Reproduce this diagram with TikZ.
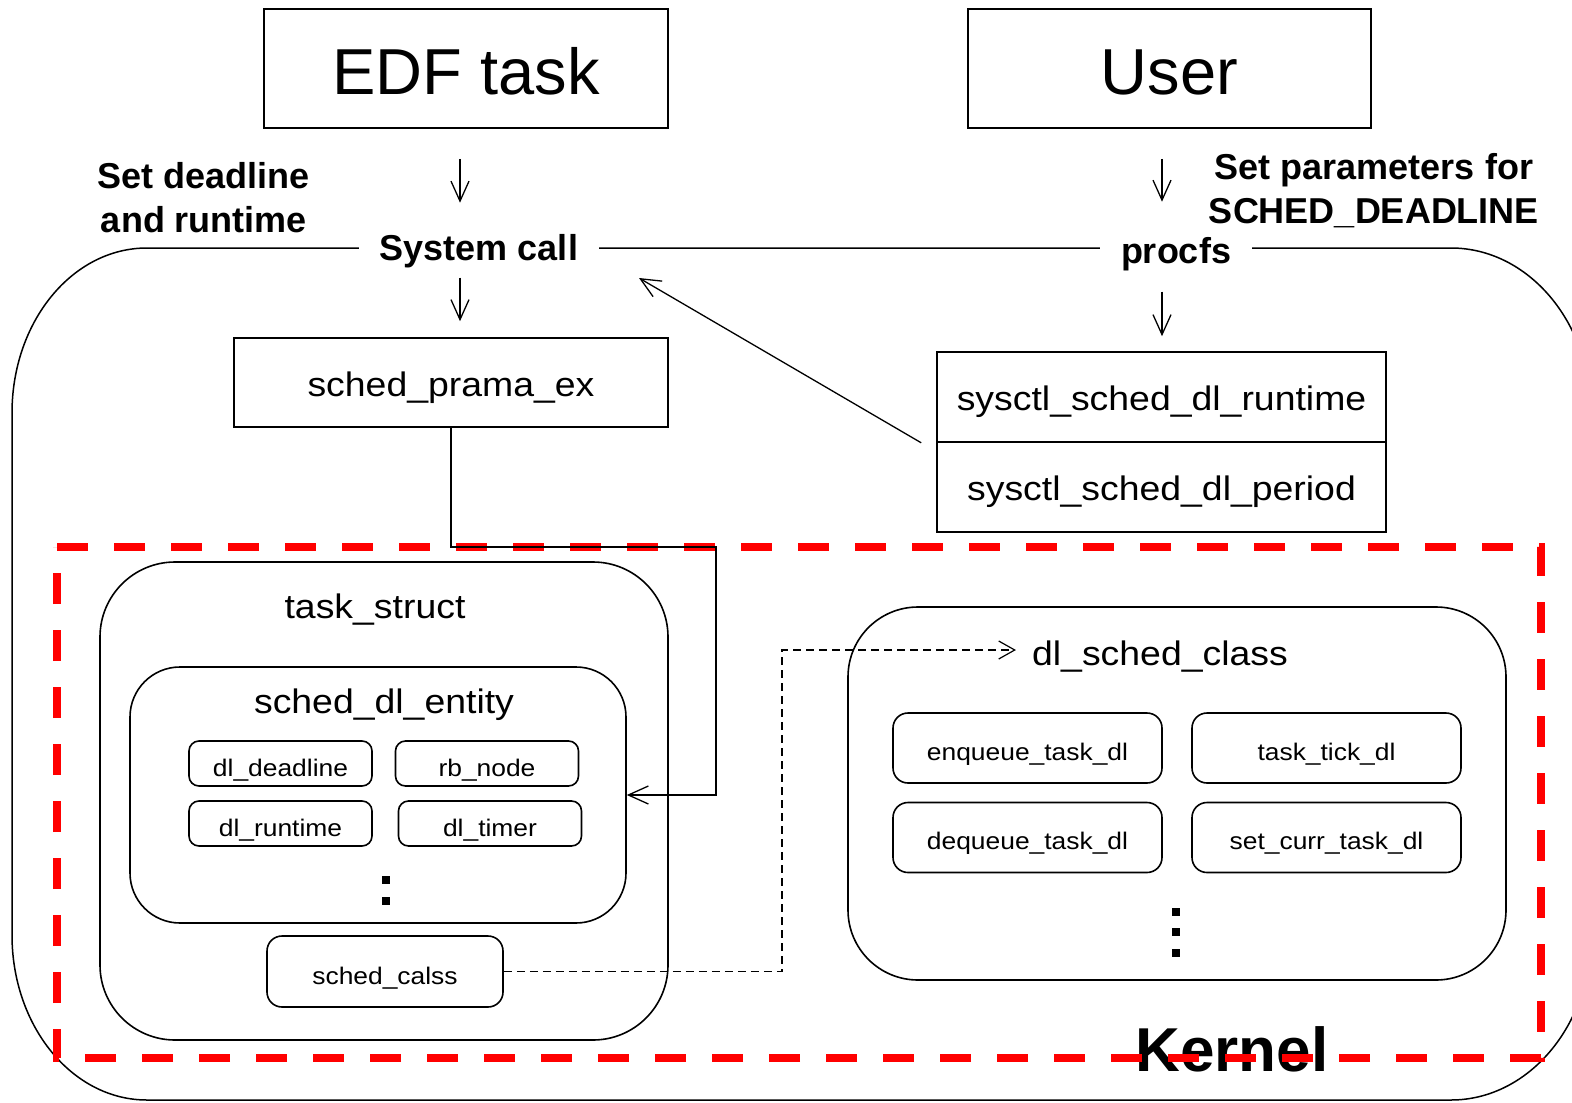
\documentclass[tikz,border=0pt]{standalone}
\usepackage{fontspec}
\setmainfont{Liberation Sans}
\newfontfamily\widesans{Liberation Sans}[FakeStretch=1.1]
\usepackage{xcolor}
\usepackage{tikz}
\usetikzlibrary{arrows.meta}
\definecolor{kred}{RGB}{255,0,0}
\newcommand{\fbig}{\fontsize{65}{78}\selectfont}
\newcommand{\flab}{\bfseries\fontsize{36}{44}\selectfont}
\newcommand{\fmid}{\widesans\fontsize{34}{40}\selectfont}
\newcommand{\fsmall}{\widesans\fontsize{24}{28}\selectfont}
\newcommand{\fkern}{\bfseries\fontsize{62}{70}\selectfont}

\begin{document}
\begin{tikzpicture}[x=1pt, y=-1pt,
    sqbox/.style={draw, line width=1.6pt, inner sep=0pt, text depth=0pt},
    rbox/.style={draw, line width=1.6pt, inner sep=0pt, rounded corners=#1},
    rbox/.default=15pt,
    fld/.style={rbox=10pt, font=\fsmall, minimum width=183pt, minimum height=45pt, text height=25pt, text depth=0pt},
    meth/.style={rbox=15pt, font=\fsmall, minimum width=269pt, minimum height=70pt, text height=24pt, text depth=0pt},
    lab/.style={font=\flab, inner sep=2pt, align=center},
    arr/.style={line width=1.3pt, -{Straight Barb[length=20pt, width=18pt]}},
    darr/.style={line width=1.2pt, dash pattern=on 8pt off 5pt, -{Straight Barb[length=16pt, width=18pt]}},
    kerndash/.style={draw=kred, line width=8pt, dash pattern=on 31pt off 26pt}]

            \useasboundingbox (0, 0) rectangle (1572, 1103);
            \clip (0, 0) rectangle (1572, 1103);

            \draw[line width=1.5pt] (147, 248) -- (1451, 248)
                .. controls (1528, 248) and (1591, 322) .. (1591, 413) -- (1591, 935)
                .. controls (1591, 1026) and (1528, 1100) .. (1451, 1100) -- (147, 1100)
                .. controls (72, 1100) and (12, 1026) .. (12, 935) -- (12, 413)
                .. controls (12, 322) and (72, 248) .. (147, 248) -- cycle;

            \node[sqbox, font=\fbig, minimum width=404pt, minimum height=119pt, text height=51pt] (edf) at (466, 68.5) {EDF task};
            \node[sqbox, font=\fbig, minimum width=403pt, minimum height=119pt, text height=51pt] (user) at (1169.5, 68.5) {User};

            \node[lab] (setdl) at (204, 198) {Set deadline\\and runtime};
            \node[lab] (setpar) at (1374, 191) {Set parameters for\\SCHED\_DEADLINE};
            \node[lab, anchor=base, fill=white, inner xsep=21pt] (syscall) at (479, 260) {System call};
            \node[lab, anchor=base, fill=white, inner xsep=21pt] (procfs) at (1176, 263) {procfs};

            \node[sqbox, font=\fmid, minimum width=434pt, minimum height=89pt, text height=27pt] (prama) at (451, 382.5) {sched\_prama\_ex};
            \node[sqbox, font=\fmid, minimum width=449pt, minimum height=90pt, text height=27pt] (sysrt) at (1161.5, 397) {sysctl\_sched\_dl\_runtime};
            \node[sqbox, font=\fmid, minimum width=449pt, minimum height=90pt, text height=27pt] (sysper) at (1161.5, 487) {sysctl\_sched\_dl\_period};

            \node[rbox=75pt, minimum width=568pt, minimum height=478pt] (task) at (384, 801) {};
            \node[font=\fmid, anchor=base] (tasktitle) at (375, 618) {task\_struct};
            \node[rbox=50pt, minimum width=496pt, minimum height=256pt] (entity) at (378, 795) {};
            \node[font=\fmid, anchor=base] (entitytitle) at (384, 713) {sched\_dl\_entity};
            \node[fld] (deadline) at (280.5, 763.5) {dl\_deadline};
            \node[fld] (rbnode) at (487, 763.5) {rb\_node};
            \node[fld] (runtime) at (280.5, 823.5) {dl\_runtime};
            \node[fld] (timer) at (490, 823.5) {dl\_timer};
            \fill (382, 876) rectangle ++(8, 8);
            \fill (382, 897) rectangle ++(8, 8);
            \node[rbox, font=\fsmall, minimum width=236pt, minimum height=71pt, text height=25pt, text depth=0pt] (calss) at (385, 971.5) {sched\_calss};

            \node[rbox=70pt, minimum width=658pt, minimum height=373pt] (dlclass) at (1177, 793.5) {};
            \node[font=\fmid, anchor=base, inner sep=3pt] (dltitle) at (1160, 665) {dl\_sched\_class};
            \node[meth] (enq) at (1027.5, 748) {enqueue\_task\_dl};
            \node[meth] (tick) at (1326.5, 748) {task\_tick\_dl};
            \node[meth] (deq) at (1027.5, 837.5) {dequeue\_task\_dl};
            \node[meth] (curr) at (1326.5, 837.5) {set\_curr\_task\_dl};
            \fill (1172, 908) rectangle ++(8, 8);
            \fill (1172, 928) rectangle ++(8, 8);
            \fill (1172, 949) rectangle ++(8, 8);

            \node[font=\fkern, anchor=base] (kernel) at (1232, 1071) {Kernel};
            \draw[kerndash] (57, 547) -- (1541, 547) -- (1541, 1058) -- (57, 1058) -- cycle;

            \coordinate (lx) at (460, 0);
            \coordinate (rx) at (1162, 0);
            \coordinate (sctip) at (639, 278);
            \coordinate (turn) at (716, 547);
            \coordinate (bend) at (782, 650);

            \draw[arr, shorten <=30pt, shorten >=29pt] (edf.south -| lx) -- (syscall.north -| lx);
            \draw[arr, shorten <=8pt, shorten >=16pt] (syscall.south -| lx) -- (prama.north -| lx);
            \draw[arr, shorten <=30pt, shorten >=33pt] (user.south -| rx) -- (procfs.north -| rx);
            \draw[arr, shorten <=19pt, shorten >=15pt] (procfs.south -| rx) -- (sysrt.north -| rx);
            \draw[arr] ([xshift=-15pt]sysrt.south west) -- (sctip);
            \draw[arr] (prama.south) |- (turn) |- (entity.east);
            \draw[darr, shorten >=13pt] (calss.east) -| (bend) -- (bend -| dltitle.west);

        \end{tikzpicture}
\end{document}
